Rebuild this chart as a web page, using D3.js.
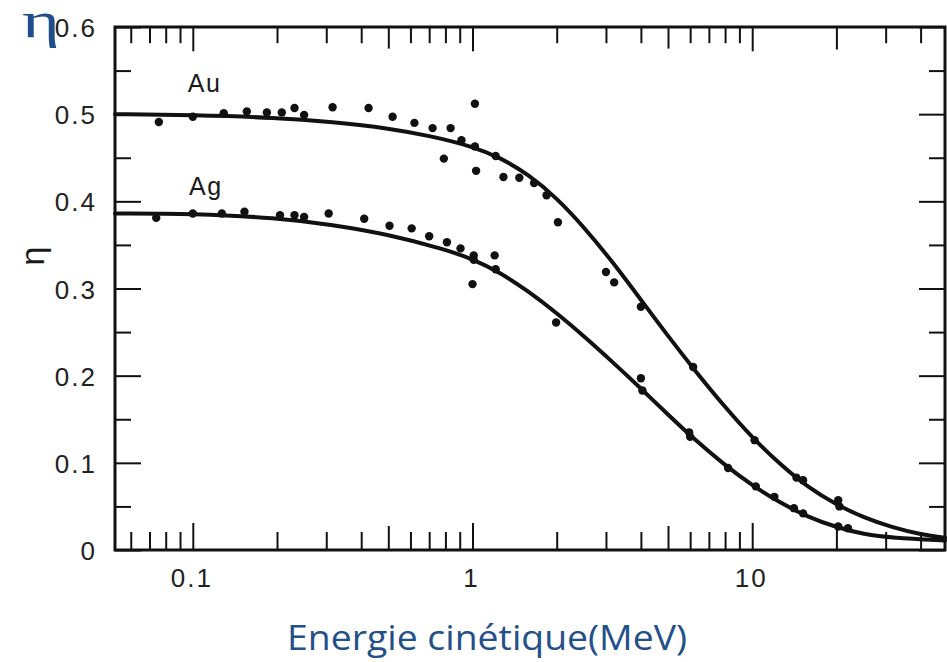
<!DOCTYPE html>
<html>
<head>
<meta charset="utf-8">
<script src="https://cdn.jsdelivr.net/npm/d3@7"></script>
<style>
  html, body { margin: 0; padding: 0; background: #fff; }
  svg { display: block; }
</style>
</head>
<body>
<svg id="chart" width="947" height="662"></svg>
<script>
// ---------- DATA ----------
const xDomain = [0.0527, 48.9];           // kinetic energy (MeV), log scale
const yDomain = [0, 0.6];                 // eta

const yTickValues = [0, 0.05, 0.1, 0.15, 0.2, 0.25, 0.3, 0.35, 0.4, 0.45, 0.5, 0.55, 0.6];
const yTickLabels = ["0", "0.1", "0.2", "0.3", "0.4", "0.5", "0.6"];
const yLabelValues = [0, 0.1, 0.2, 0.3, 0.4, 0.5, 0.6];

const xTickValues = [0.06, 0.07, 0.08, 0.09, 0.1, 0.2, 0.3, 0.4, 0.5, 0.6, 0.7, 0.8, 0.9, 1,
                     2, 3, 4, 5, 6, 7, 8, 9, 10, 20, 30, 40];
const xLabelValues = [0.1, 1, 10];
const xTickLabels = ["0.1", "1", "10"];

// fitted curves (energy, eta)
const auCurveE   = [0.0527, 0.1, 0.2, 0.316, 0.5, 0.708, 1, 1.26, 1.58, 2, 2.51, 3.16, 3.98, 5.01, 6.31, 7.94, 10, 12.6, 15.8, 20, 25.1, 31.6, 39.8, 48.9];
const auCurveEta = [0.500, 0.499, 0.496, 0.491, 0.484, 0.475, 0.463, 0.450, 0.431, 0.404, 0.370, 0.331, 0.288, 0.245, 0.204, 0.165, 0.129, 0.098, 0.072, 0.052, 0.037, 0.026, 0.018, 0.014];

const agCurveE   = [0.0527, 0.1, 0.2, 0.316, 0.5, 0.794, 1, 1.26, 1.58, 2, 2.51, 3.16, 3.98, 5.01, 6.31, 7.94, 10, 12.6, 15.8, 20, 25.1, 31.6, 48.9];
const agCurveEta = [0.386, 0.386, 0.381, 0.373, 0.362, 0.345, 0.334, 0.318, 0.297, 0.272, 0.245, 0.216, 0.186, 0.155, 0.125, 0.098, 0.074, 0.054, 0.038, 0.026, 0.018, 0.014, 0.011];

// measured points
const auPointsE   = [0.0756, 0.1, 0.129, 0.156, 0.184, 0.208, 0.231, 0.25, 0.316, 0.425, 0.518, 0.62, 0.72, 0.79, 0.835, 0.913,
                     1.02, 1.02, 1.03, 1.21, 1.29, 1.47, 1.66, 1.84, 2.02, 3.0, 3.21, 4.0, 6.15, 10.2, 14.4, 15.2, 20.3, 20.5];
const auPointsEta = [0.491, 0.497, 0.501, 0.503, 0.502, 0.502, 0.507, 0.499, 0.508, 0.507, 0.497, 0.490, 0.484, 0.449, 0.484, 0.470,
                     0.463, 0.512, 0.435, 0.452, 0.428, 0.427, 0.421, 0.407, 0.376, 0.319, 0.307, 0.279, 0.210, 0.126, 0.083, 0.080, 0.057, 0.050];

const agPointsE   = [0.074, 0.1, 0.127, 0.153, 0.205, 0.231, 0.25, 0.306, 0.41, 0.505, 0.606, 0.70, 0.81, 0.906, 1.0, 1.01, 1.01,
                     1.2, 1.21, 1.99, 4.0, 4.05, 5.95, 6.0, 8.2, 10.3, 12, 14.1, 15.2, 20.3, 22];
const agPointsEta = [0.381, 0.386, 0.386, 0.388, 0.384, 0.384, 0.382, 0.386, 0.380, 0.372, 0.369, 0.360, 0.353, 0.346, 0.305, 0.338, 0.333,
                     0.338, 0.322, 0.261, 0.197, 0.183, 0.135, 0.130, 0.094, 0.073, 0.061, 0.048, 0.042, 0.027, 0.025];

const seriesLabels = ["Au", "Ag"];
const seriesLabelAt = [[0.096, 0.525], [0.097, 0.407]];
const yTitle = "η";
const xTitle = "Energie cinétique(MeV)";

// ---------- LAYOUT ----------
const svg = d3.select("#chart");
const pLeft = 115, pRight = 945, pTop = 27, pBottom = 550;
const x = d3.scaleLog().domain(xDomain).range([pLeft, pRight]);
const y = d3.scaleLinear().domain(yDomain).range([pBottom, pTop]);
const ink = "#111";

// frame
svg.append("rect").attr("x", pLeft).attr("y", pTop)
  .attr("width", pRight - pLeft).attr("height", pBottom - pTop)
  .attr("fill", "none").attr("stroke", ink).attr("stroke-width", 3);

// x ticks (bottom, inward, and top, inward)
function xTickLen(v) {
  const l = Math.log10(v);
  if (Math.abs(l - Math.round(l)) < 1e-6) return 27;
  const m = v / Math.pow(10, Math.floor(l + 1e-9));
  if (Math.abs(m - 5) < 1e-6) return 24;
  if (Math.abs(v - 20) < 1e-6) return 25;
  return 18;
}
const gxb = svg.append("g").attr("transform", `translate(0,${pBottom})`)
  .call(d3.axisBottom(x).tickValues(xTickValues).tickFormat("").tickSizeOuter(0));
gxb.select(".domain").remove();
gxb.selectAll(".tick line").attr("y2", d => -xTickLen(d)).attr("stroke", ink).attr("stroke-width", 2);

const gxt = svg.append("g").attr("transform", `translate(0,${pTop})`)
  .call(d3.axisTop(x).tickValues(xTickValues).tickFormat("").tickSizeOuter(0));
gxt.select(".domain").remove();
gxt.selectAll(".tick line").attr("y2", d => xTickLen(d) * 0.9).attr("stroke", ink).attr("stroke-width", 2);

// y ticks (left and right, inward)
function yTickLen(v) {
  return Math.abs(Math.round(v * 10) - v * 10) < 1e-6 ? 26 : 16;
}
const gyl = svg.append("g").attr("transform", `translate(${pLeft},0)`)
  .call(d3.axisLeft(y).tickValues(yTickValues).tickFormat("").tickSizeOuter(0));
gyl.select(".domain").remove();
gyl.selectAll(".tick line").attr("x2", d => yTickLen(d)).attr("stroke", ink).attr("stroke-width", 2);

const gyr = svg.append("g").attr("transform", `translate(${pRight},0)`)
  .call(d3.axisRight(y).tickValues(yTickValues).tickFormat("").tickSizeOuter(0));
gyr.select(".domain").remove();
gyr.selectAll(".tick line").attr("x2", d => -yTickLen(d)).attr("stroke", ink).attr("stroke-width", 2);

// tick labels
const labelFont = "'Liberation Sans', Arial, sans-serif";
svg.append("g").selectAll("text").data(yLabelValues).join("text")
  .attr("x", 97).attr("y", d => y(d) + 10)
  .attr("text-anchor", "end")
  .attr("font-family", labelFont).attr("font-size", 26).attr("letter-spacing", 2)
  .attr("fill", "#222")
  .text((d, i) => yTickLabels[i]);

svg.append("g").selectAll("text").data(xLabelValues).join("text")
  .attr("x", d => x(d) - 1).attr("y", 587)
  .attr("text-anchor", "middle")
  .attr("font-family", labelFont).attr("font-size", 26).attr("letter-spacing", 2)
  .attr("fill", "#222")
  .text((d, i) => xTickLabels[i]);

// curves
const line = d3.line().x(d => x(d[0])).y(d => y(d[1])).curve(d3.curveBasis);
const auCurve = auCurveE.map((e, i) => [e, auCurveEta[i]]);
const agCurve = agCurveE.map((e, i) => [e, agCurveEta[i]]);
[auCurve, agCurve].forEach(c => {
  svg.append("path").datum(c).attr("d", line)
    .attr("fill", "none").attr("stroke", ink).attr("stroke-width", 4)
    .attr("stroke-linecap", "round").attr("stroke-linejoin", "round");
});

// points
const auPts = auPointsE.map((e, i) => [e, auPointsEta[i]]);
const agPts = agPointsE.map((e, i) => [e, agPointsEta[i]]);
svg.append("g").selectAll("circle").data(auPts.concat(agPts)).join("circle")
  .attr("cx", d => x(d[0])).attr("cy", d => y(d[1])).attr("r", 4.2)
  .attr("fill", ink);

// series labels
svg.append("g").selectAll("text").data(seriesLabels).join("text")
  .attr("x", (d, i) => x(seriesLabelAt[i][0])).attr("y", (d, i) => y(seriesLabelAt[i][1]))
  .attr("font-family", labelFont).attr("font-size", 25).attr("letter-spacing", 1.5)
  .attr("fill", "#1a1a1a")
  .text(d => d);

// rotated eta label on the y axis
svg.append("text")
  .attr("transform", "translate(44,256) rotate(-90)")
  .attr("text-anchor", "middle")
  .attr("font-family", labelFont).attr("font-size", 34)
  .attr("fill", "#1a1a1a")
  .text(yTitle);

// blue eta in the corner
svg.append("text")
  .attr("transform", "translate(22,37) scale(1.45,1)")
  .attr("font-family", "'Liberation Serif', 'DejaVu Serif', serif").attr("font-size", 50)
  .attr("fill", "#1f4e8a")
  .text(yTitle);

// x title
svg.append("text")
  .attr("x", 287).attr("y", 650)
  .attr("font-family", "'Open Sans', 'Noto Sans', sans-serif").attr("font-size", 35)
  .attr("textLength", 400).attr("lengthAdjust", "spacingAndGlyphs")
  .attr("fill", "#24508a")
  .text(xTitle);
</script>
</body>
</html>
